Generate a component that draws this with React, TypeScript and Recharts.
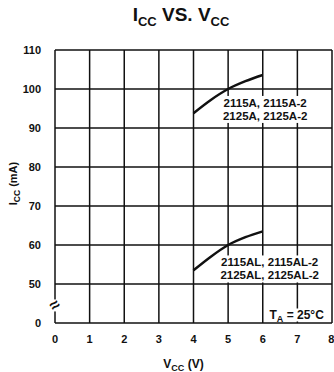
import { LineChart, Line, XAxis, YAxis, CartesianGrid, ReferenceDot } from 'recharts';

// I_CC vs V_CC, T_A = 25°C
const vcc = [4, 4.5, 5, 5.5, 6];
const iccA = [93.8, 97.2, 100, 102, 103.6];
const iccAL = [53.5, 57, 60, 62, 63.5];

const xTicks = [0, 1, 2, 3, 4, 5, 6, 7, 8];
// the axis is broken between 0 and 50, so "0" sits where 40 would be
const yTicks = [40, 50, 60, 70, 80, 90, 100, 110];

const data = vcc.map((v, i) => ({ vcc: v, a: iccA[i], al: iccAL[i] }));

const FONT = '"Liberation Sans", Arial, sans-serif';

const TextLabel = (lines: string[], w: number) => (props: any) => {
  const { cx, cy } = props;
  return (
    <g>
      <rect x={cx - w / 2} y={cy - 11} width={w} height={lines.length * 13 + 1} fill="#fff" />
      {lines.map((l, i) => (
        <text key={i} x={cx} y={cy + i * 13} textAnchor="middle" fontFamily={FONT} fontWeight="bold" fontSize={11.5} fill="#111">
          {l}
        </text>
      ))}
    </g>
  );
};

const TaLabel = (props: any) => {
  const { cx, cy } = props;
  return (
    <g>
      <rect x={cx - 28} y={cy - 11} width={56} height={13} fill="#fff" />
      <text x={cx} y={cy} textAnchor="middle" fontFamily={FONT} fontWeight="bold" fontSize={12} fill="#111">
        T<tspan fontSize={9} dy={3}>A</tspan><tspan dy={-3}> = 25°C</tspan>
      </text>
    </g>
  );
};

const BreakMark = (props: any) => {
  const { cx, cy } = props;
  return (
    <g>
      <rect x={cx - 3} y={cy - 6} width={6} height={12} fill="#fff" />
      <text x={cx} y={cy + 5} textAnchor="middle" fontFamily={FONT} fontWeight="bold" fontSize={17} fill="#111"
        transform={`rotate(-35 ${cx} ${cy})`}>≈</text>
    </g>
  );
};

export default function App() {
  return (
    <div style={{ position: 'absolute', left: 0, top: 0, width: 334, height: 372, background: '#fff', fontFamily: FONT }}>
      <div style={{ position: 'absolute', left: 0, width: 334, top: 4, textAlign: 'center', fontWeight: 'bold', fontSize: 19, color: '#111', paddingLeft: 28, boxSizing: 'border-box' }}>
        I<sub style={{ fontSize: 13 }}>CC</sub> VS. V<sub style={{ fontSize: 13 }}>CC</sub>
      </div>
      <LineChart width={334} height={372} data={data} margin={{ top: 50, right: 2, bottom: 0, left: 0 }}>
        <CartesianGrid stroke="#111" strokeWidth={1.5} horizontalValues={yTicks.slice(1)} verticalValues={xTicks.slice(1)} />
        <XAxis
          type="number"
          dataKey="vcc"
          domain={[0, 8]}
          ticks={xTicks}
          tickLine={false}
          axisLine={{ stroke: '#111', strokeWidth: 1.5 }}
          tick={{ fill: '#111', fontSize: 11, fontWeight: 'bold', fontFamily: FONT }}
          tickMargin={6}
          height={49}
          label={(p: any) => {
            const vb = p.viewBox;
            const cx = vb.x + vb.width / 2 - 10;
            return (
              <text x={cx} y={vb.y + 45} textAnchor="middle" fontFamily={FONT} fontWeight="bold" fontSize={12} fill="#111">
                V<tspan fontSize={9} dy={3}>CC</tspan><tspan dy={-3}> (V)</tspan>
              </text>
            );
          }}
        />
        <YAxis
          type="number"
          domain={[40, 110]}
          ticks={yTicks}
          tickFormatter={(v: number) => (v === 40 ? '0' : String(v))}
          tickLine={false}
          axisLine={{ stroke: '#111', strokeWidth: 1.5 }}
          tick={{ fill: '#111', fontSize: 11, fontWeight: 'bold', fontFamily: FONT }}
          tickMargin={8}
          width={55}
          label={(p: any) => {
            const vb = p.viewBox;
            const x = 17;
            const y = vb.y + vb.height / 2 - 3;
            return (
              <text x={x} y={y} textAnchor="middle" fontFamily={FONT} fontWeight="bold" fontSize={11} fill="#111"
                transform={`rotate(-90 ${x} ${y})`}>
                I<tspan fontSize={8.5} dy={3}>CC</tspan><tspan dy={-3}> (mA)</tspan>
              </text>
            );
          }}
        />
        <Line dataKey="a" type="monotone" stroke="#111" strokeWidth={2.5} dot={false} isAnimationActive={false} />
        <Line dataKey="al" type="monotone" stroke="#111" strokeWidth={2.5} dot={false} isAnimationActive={false} />
        <ReferenceDot x={6.07} y={95.4} r={0} shape={TextLabel(['2115A, 2115A-2', '2125A, 2125A-2'], 88)} />
        <ReferenceDot x={6.2} y={54.5} r={0} shape={TextLabel(['2115AL, 2115AL-2', '2125AL, 2125AL-2'], 100)} />
        <ReferenceDot x={6.98} y={40.9} r={0} shape={TaLabel} />
        <ReferenceDot x={0} y={44.5} r={0} shape={BreakMark} />
      </LineChart>
    </div>
  );
}
